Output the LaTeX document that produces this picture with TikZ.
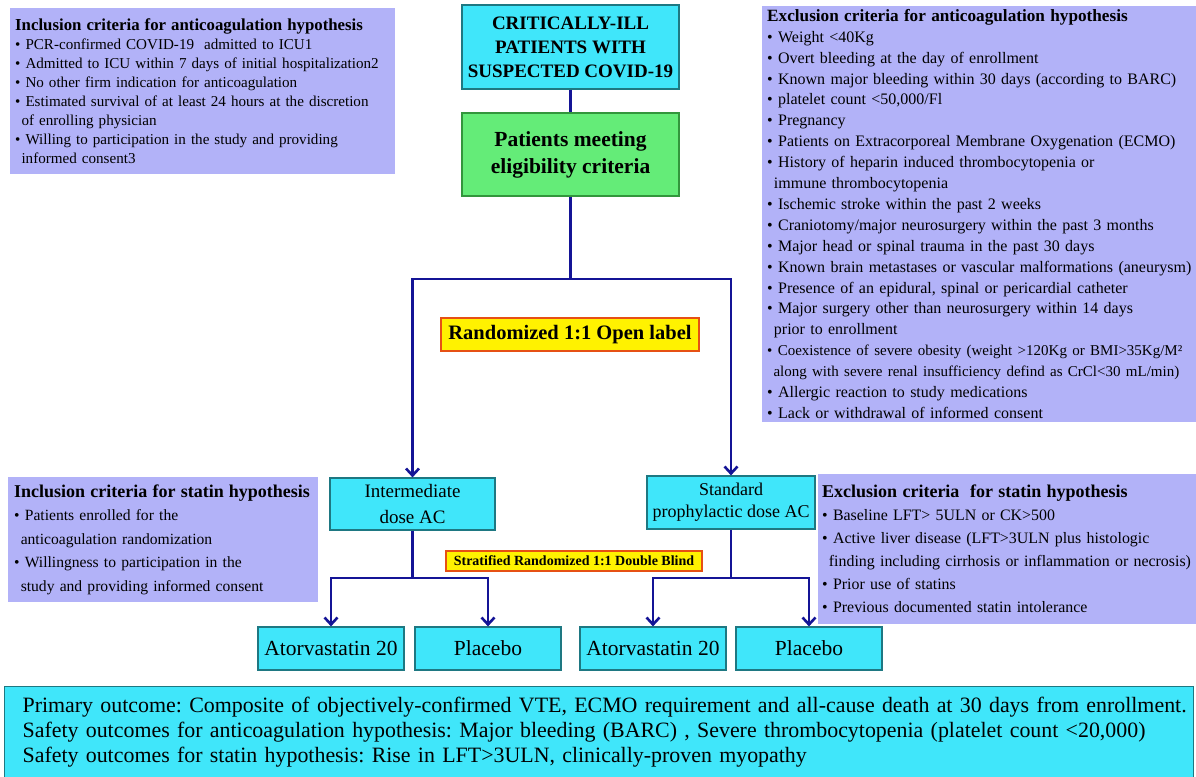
\documentclass[tikz,border=0pt]{standalone}
\usepackage{fontspec}
\setmainfont{Liberation Serif}
\usetikzlibrary{arrows.meta,positioning}
\definecolor{critlav}{RGB}{178,178,248}
\definecolor{boxcyan}{RGB}{64,230,250}
\definecolor{cyanedge}{RGB}{30,120,130}
\definecolor{boxgreen}{RGB}{100,236,120}
\definecolor{greenedge}{RGB}{50,150,60}
\definecolor{labeledge}{RGB}{230,80,20}
\definecolor{flowblue}{RGB}{20,20,150}
\newcommand{\critbul}{\textbullet\ }
\newcommand{\critind}{\hspace*{0.42em}}
\frenchspacing

\begin{document}
\begin{tikzpicture}[x=1pt,y=-1pt,
  crit/.style={fill=critlav, anchor=north west, align=left, inner xsep=5pt, inner ysep=3pt},
  cyanbox/.style={fill=boxcyan, draw=cyanedge, line width=1.2pt, align=center, inner sep=0pt},
  greenbox/.style={fill=boxgreen, draw=greenedge, line width=1.2pt, align=center, inner sep=0pt},
  randlabel/.style={fill=yellow, draw=labeledge, line width=1.2pt, align=center, inner sep=0pt},
  armbox/.style={cyanbox, minimum width=146pt, minimum height=43pt, font=\fontsize{21.5}{25}\selectfont},
  flow/.style={draw=flowblue, line width=2.6pt},
  >={Straight Barb[length=7pt,width=13pt]}]
\useasboundingbox (0,0) rectangle (1196,776);

% criteria boxes (the right ones run past the page edge)
\node[crit, text width=375pt, minimum height=166pt, font=\fontsize{15.1}{19}\selectfont] (inclAC) at (10,8)
  {{\fontsize{16.8}{19}\selectfont\bfseries Inclusion criteria for anticoagulation hypothesis}\\
   \critbul PCR-confirmed COVID-19\ \ admitted to ICU1\\
   \critbul Admitted to ICU within 7 days of initial hospitalization2\\
   \critbul No other firm indication for anticoagulation\\
   \critbul Estimated survival of at least 24 hours at the discretion\\
   \critind of enrolling physician\\
   \critbul Willing to participation in the study and providing\\
   \critind informed consent3};
\node[crit, text width=560pt, minimum height=415pt, font=\fontsize{16}{20.9}\selectfont] (exclAC) at (762,6)
  {{\fontsize{17.2}{20.9}\selectfont\bfseries Exclusion criteria for anticoagulation hypothesis}\\
   \critbul Weight <40Kg\\
   \critbul Overt bleeding at the day of enrollment\\
   \critbul Known major bleeding within 30 days (according to BARC)\\
   \critbul platelet count <50,000/Fl\\
   \critbul Pregnancy\\
   \critbul Patients on Extracorporeal Membrane Oxygenation (ECMO)\\
   \critbul History of heparin induced thrombocytopenia or\\
   \critind immune thrombocytopenia\\
   \critbul Ischemic stroke within the past 2 weeks\\
   \critbul Craniotomy/major neurosurgery within the past 3 months\\
   \critbul Major head or spinal trauma in the past 30 days\\
   \critbul Known brain metastases or vascular malformations (aneurysm)\\
   \critbul Presence of an epidural, spinal or pericardial catheter\\
   \critbul Major surgery other than neurosurgery within 14 days\\
   \critind prior to enrollment\\
   {\fontsize{15}{20.9}\selectfont\critbul Coexistence of severe obesity (weight >120Kg or BMI>35Kg/M²}\\
   {\fontsize{15}{20.9}\selectfont\critind along with severe renal insufficiency defind as CrCl<30 mL/min)}\\
   \critbul Allergic reaction to study medications\\
   \critbul Lack or withdrawal of informed consent};
\node[crit, inner xsep=6pt, text width=298pt, minimum height=125pt, font=\fontsize{15.6}{23.5}\selectfont] (inclST) at (8,477)
  {\mbox{\fontsize{18}{23.5}\selectfont\bfseries Inclusion criteria for statin hypothesis}\\
   \critbul Patients enrolled for the\\
   \critind anticoagulation randomization\\
   \critbul Willingness to participation in the\\
   \critind study and providing informed consent};
\node[crit, inner xsep=4pt, text width=500pt, minimum height=150pt, font=\fontsize{15.9}{23}\selectfont] (exclST) at (818,474)
  {{\fontsize{18}{23}\selectfont\bfseries Exclusion criteria\ \ for statin hypothesis}\\
   \critbul Baseline LFT> 5ULN or CK>500\\
   \critbul Active liver disease (LFT>3ULN plus histologic\\
   \critind finding including cirrhosis or inflammation or necrosis)\\
   \critbul Prior use of statins\\
   \critbul Previous documented statin intolerance};

% flow boxes
\node[cyanbox, minimum width=217pt, minimum height=84pt, font=\fontsize{19}{24}\selectfont\bfseries] (ill) at (570.5,47)
  {CRITICALLY-ILL\\PATIENTS WITH\\SUSPECTED COVID-19};
\node[greenbox, minimum width=217pt, minimum height=83pt, font=\fontsize{21.5}{27}\selectfont\bfseries] (elig) at (570.5,154.5)
  {Patients meeting\\eligibility criteria};
\node[randlabel, minimum width=258pt, minimum height=33pt, font=\fontsize{20.5}{24}\selectfont\bfseries] (rand) at (570,334.5)
  {Randomized 1:1 Open label};
\node[cyanbox, minimum width=165pt, minimum height=52pt, font=\fontsize{19}{26}\selectfont] (inter) at (412.5,504)
  {Intermediate\\dose AC};
\node[cyanbox, minimum width=168pt, minimum height=53pt, font=\fontsize{18}{22}\selectfont] (std) at (731,502.5)
  {Standard\\prophylactic dose AC};
\node[randlabel, minimum width=256pt, minimum height=20pt, font=\fontsize{14}{16}\selectfont\bfseries] (strat) at (574,561)
  {Stratified Randomized 1:1 Double Blind};
\node[armbox] (atorL) at (331,648.5) {Atorvastatin 20};
\node[armbox] (placL) at (488,648.5) {Placebo};
\node[armbox] (atorR) at (653,648.5) {Atorvastatin 20};
\node[armbox] (placR) at (809,648.5) {Placebo};

% outcomes
\node[cyanbox, anchor=north west, align=left, inner xsep=18pt, inner ysep=0pt, text width=1153pt, minimum height=92pt,
  font=\fontsize{21.9}{25}\selectfont] (outc) at (4,686)
  {\mbox{Primary outcome: Composite of objectively-confirmed VTE, ECMO requirement and all-cause death at 30 days from enrollment.}\\
   Safety outcomes for anticoagulation hypothesis: Major bleeding (BARC) , Severe thrombocytopenia (platelet count <20,000)\\
   Safety outcomes for statin hypothesis: Rise in LFT>3ULN, clinically-proven myopathy};

% connectors
\coordinate (splitT) at (570.5,279);
\coordinate (splitL) at (412.5,578);
\coordinate (splitR) at (731,578);
\draw[flow] (ill) -- (elig);
\draw[flow] (elig) -- (splitT);
\draw[flow,->] (splitT) -| (inter.north);
\draw[flow,->] (splitT) -| (std.north);
\draw[flow] (inter) -- (splitL);
\draw[flow,->] (splitL) -| (atorL.north);
\draw[flow,->] (splitL) -| (placL.north);
\draw[flow] (std) -- (splitR);
\draw[flow,->] (splitR) -| (atorR.north);
\draw[flow,->] (splitR) -| (placR.north);
\end{tikzpicture}
\end{document}
